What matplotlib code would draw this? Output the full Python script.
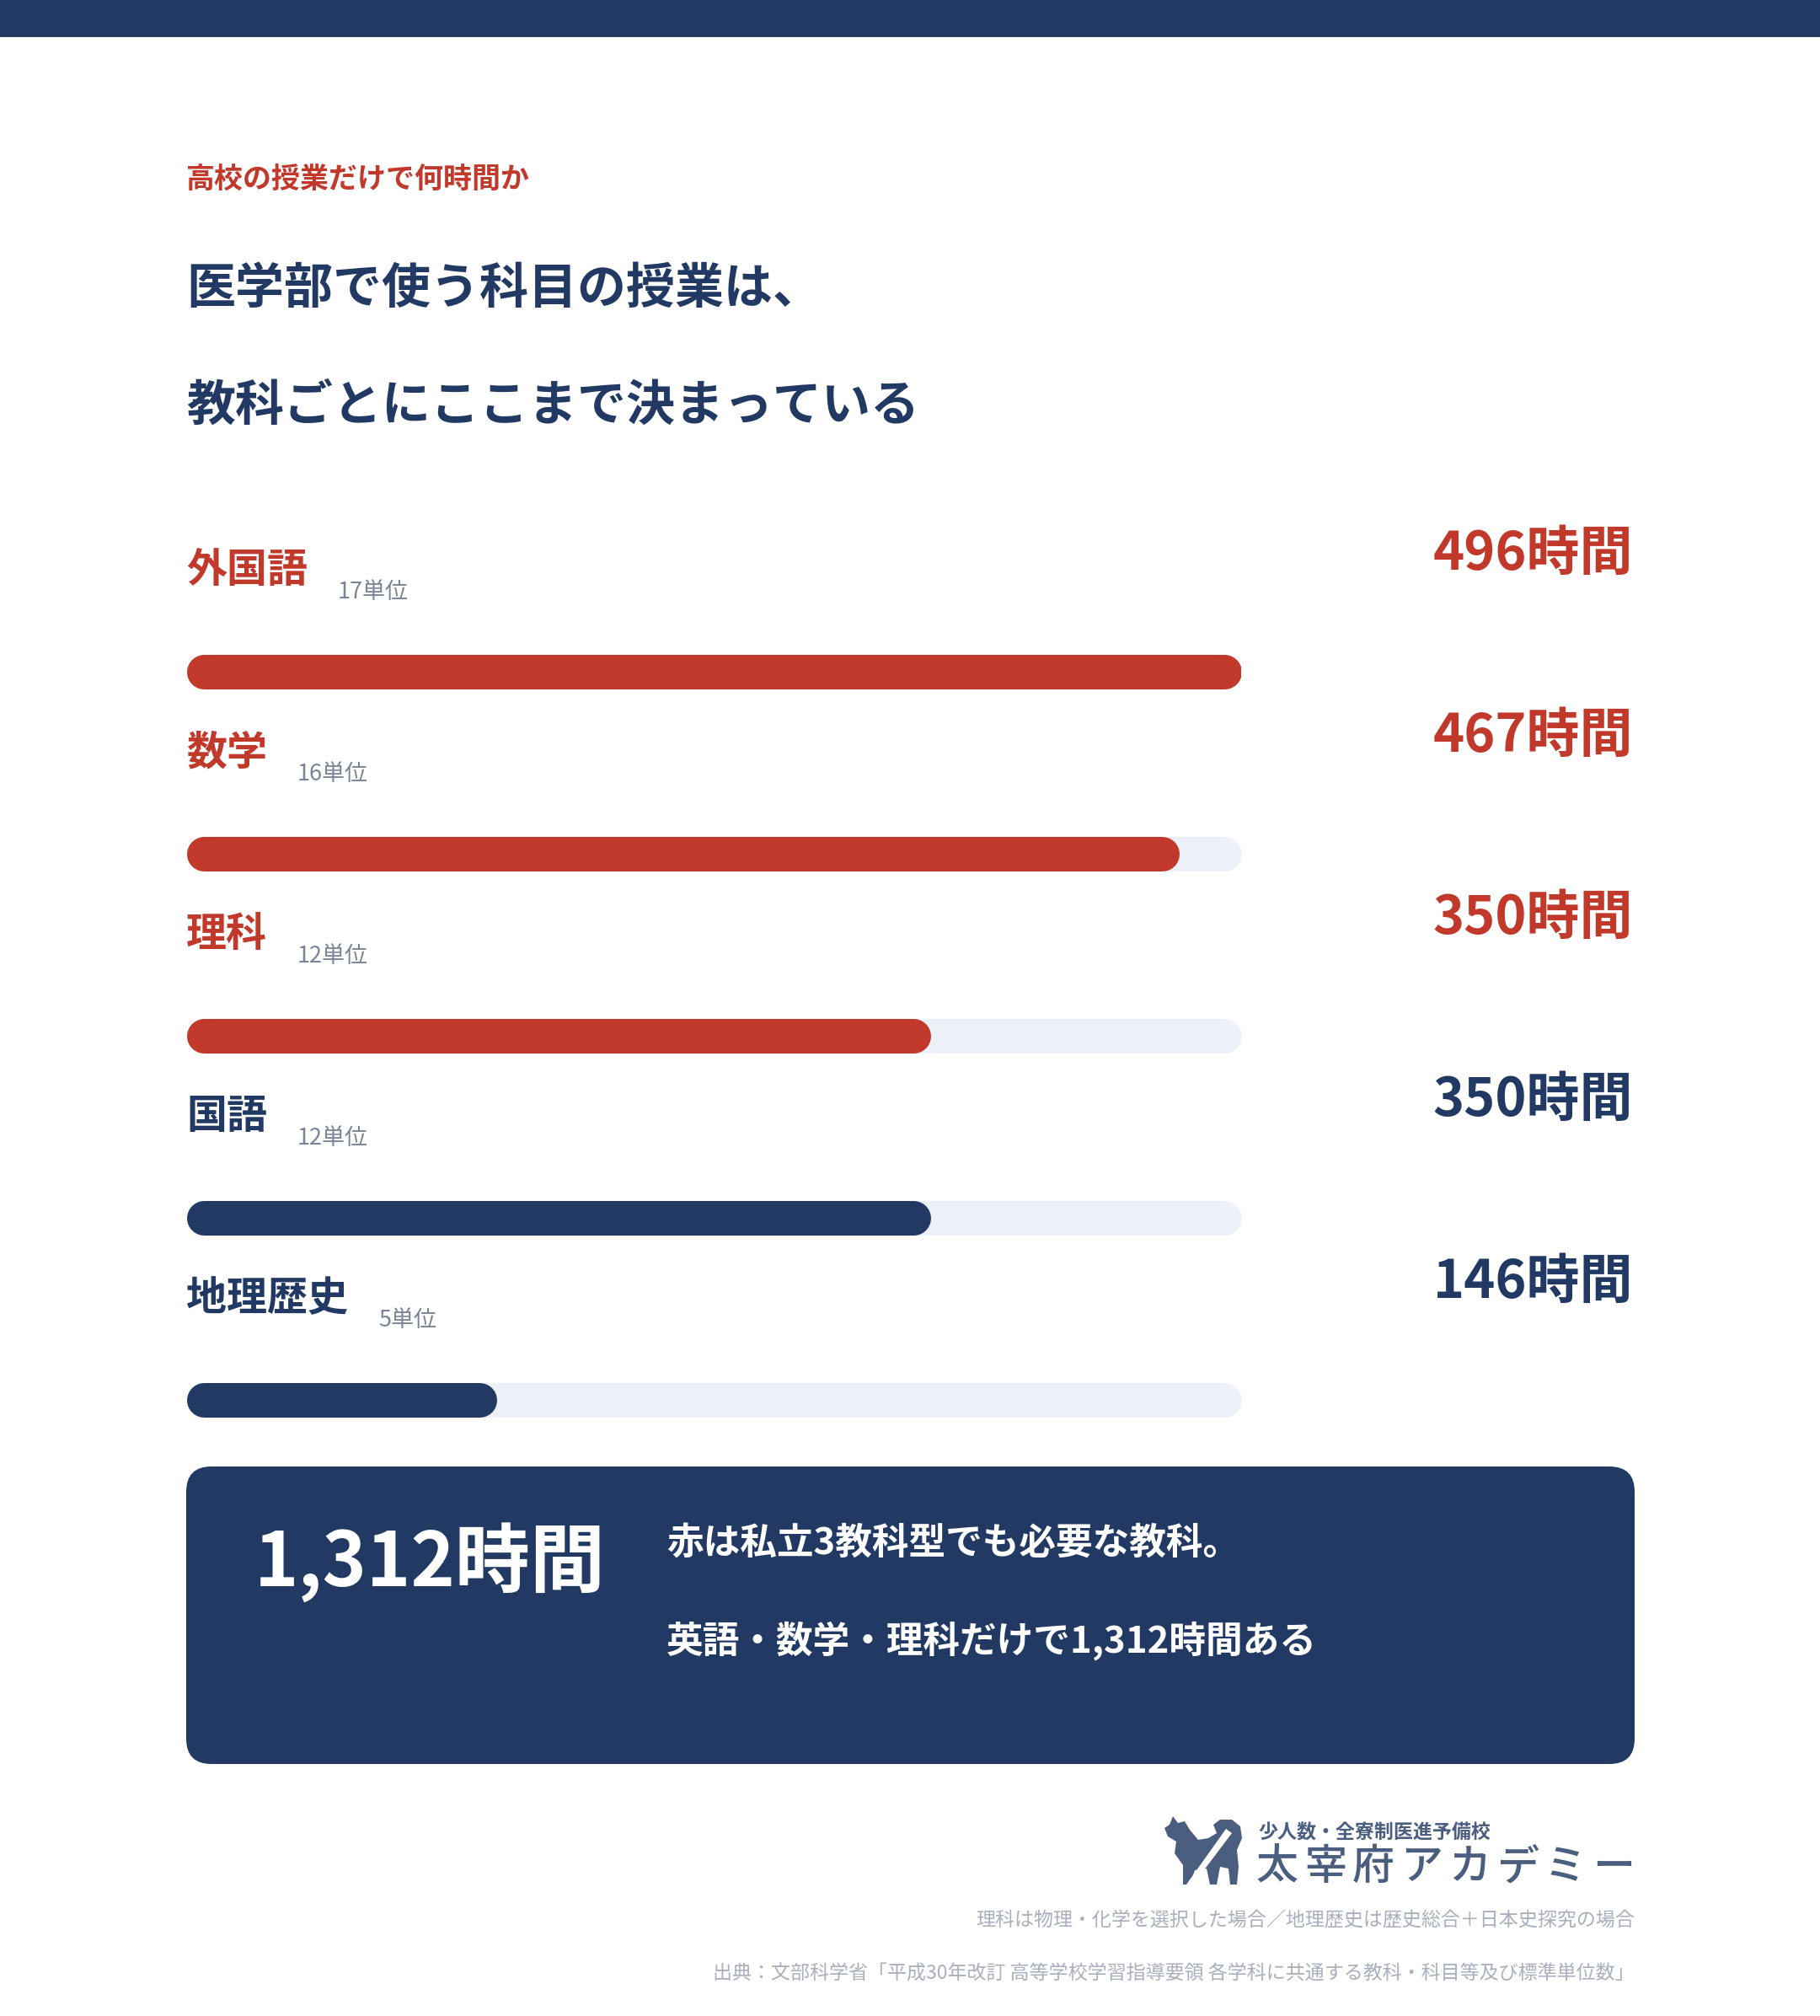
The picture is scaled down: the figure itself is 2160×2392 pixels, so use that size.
import matplotlib
matplotlib.use('Agg')
import matplotlib.pyplot as plt
from matplotlib.patches import FancyBboxPatch, Rectangle, Polygon

plt.rcParams['font.family'] = ['Noto Sans CJK JP', 'DejaVu Sans']

# data
subjects = ['外国語', '数学', '理科', '国語', '地理歴史']
units = [17, 16, 12, 12, 5]
hours = [496, 467, 350, 350, 146]
in_three = [True, True, True, False, False]   # red = needed for private 3-subject exams
total_label = '1,312'

# colours
NAVY = '#213963'
RED = '#C0392B'
TRACK = '#EDF0F7'
GREY = '#7B8494'
NOTE = '#A9AFBC'
LOGO = '#4B5E80'

W, H = 2160, 2392
DPI = 100
PT = 72 / DPI   # px -> pt

fig = plt.figure(figsize=(W / DPI, H / DPI), dpi=DPI)
fig.patch.set_facecolor('white')

# page axes in pixel coordinates
ax = fig.add_axes([0, 0, 1, 1])
ax.set_xlim(0, W)
ax.set_ylim(H, 0)
ax.axis('off')

# top band
ax.add_patch(Rectangle((0, 0), W, 44, color=NAVY, lw=0))

# heading
ax.text(221, 212, '高校の授業だけで何時間か', color=RED, fontsize=34 * PT,
        fontweight='bold', va='center', ha='left')
ax.text(221, 343, '医学部で使う科目の授業は、', color=NAVY, fontsize=58 * PT,
        fontweight='bold', va='center', ha='left')
ax.text(221, 482, '教科ごとにここまで決まっている', color=NAVY, fontsize=58 * PT,
        fontweight='bold', va='center', ha='left')

# bar axes: x in hours, y in page pixels
x0, x1 = 221, 1473
bx = fig.add_axes([x0 / W, 0, (x1 - x0) / W, 1])
hmax = max(hours)
bx.set_xlim(0, hmax)
bx.set_ylim(H, 0)
bx.axis('off')

bar_h = 41                      # px
cap = (bar_h / 2) * hmax / (x1 - x0)   # round cap radius in hours
row_y = [796.5, 1012.5, 1228.5, 1444.5, 1660.5]

for name, u, h, red, y in zip(subjects, units, hours, in_three, row_y):
    col = RED if red else NAVY
    bx.plot([cap, hmax - cap], [y, y], color=TRACK, lw=bar_h * PT,
            solid_capstyle='round', zorder=1)
    bx.plot([cap, h - cap], [y, y], color=col, lw=bar_h * PT,
            solid_capstyle='round', zorder=2)
    lab = ax.text(221, y - 120, name, color=col, fontsize=48 * PT,
                  fontweight='bold', va='center', ha='left')
    ax.annotate(f'{u}単位', xy=(1, 0.5), xycoords=lab,
                xytext=(36 * PT, -26 * PT), textcoords='offset points',
                color=GREY, fontsize=27 * PT, va='center', ha='left')
    ax.text(1938, y - 139, f'{h}時間', color=col, fontsize=63 * PT,
            fontweight='bold', va='center', ha='right')

# summary box
ax.add_patch(FancyBboxPatch((221 + 30, 1740 + 30), 1719 - 60, 353 - 60,
                            boxstyle='round,pad=30,rounding_size=30',
                            fc=NAVY, ec='none'))
ax.text(302, 1854, f'{total_label}時間', color='white', fontsize=89 * PT,
        fontweight='bold', va='center', ha='left')
ax.text(791, 1831, '赤は私立3教科型でも必要な教科。', color='white',
        fontsize=43.7 * PT, fontweight='bold', va='center', ha='left')
ax.text(791, 1947, f'英語・数学・理科だけで{total_label}時間ある', color='white',
        fontsize=43.7 * PT, fontweight='bold', va='center', ha='left')

# logo: simple dog mark + name
dog = [(0, 14), (6, 10), (10, 0), (16, 8), (24, 6), (30, 16), (40, 28),
       (52, 26), (62, 20), (58, 10), (66, 4), (80, 4), (90, 12), (92, 26),
       (86, 40), (88, 60), (86, 81), (78, 81), (76, 62), (66, 60), (62, 81),
       (54, 81), (50, 62), (36, 64), (30, 81), (22, 81), (22, 58), (12, 44),
       (14, 30), (4, 24)]
ox, oy = 1382, 2155
ax.add_patch(Polygon([(ox + a, oy + b) for a, b in dog], closed=True,
                     fc=LOGO, ec='none'))
sash = [(26, 81), (34, 81), (80, 20), (73, 15)]
ax.add_patch(Polygon([(ox + a, oy + b) for a, b in sash], closed=True,
                     fc='white', ec='none'))
ax.text(1493, 2175, '少人数・全寮制医進予備校', color=LOGO, fontsize=23 * PT,
        fontweight='bold', va='center', ha='left')
for i, ch in enumerate('太宰府アカデミー'):
    ax.text(1490 + 57 * i + 26, 2216, ch, color=LOGO, fontsize=50 * PT,
            fontweight='medium', va='center', ha='center')

# notes
ax.text(1940, 2279, '理科は物理・化学を選択した場合／地理歴史は歴史総合＋日本史探究の場合',
        color=NOTE, fontsize=23 * PT, va='center', ha='right')
ax.text(1940, 2342, '出典：文部科学省「平成30年改訂 高等学校学習指導要領 各学科に共通する教科・科目等及び標準単位数」',
        color=NOTE, fontsize=23 * PT, va='center', ha='right')

fig.savefig('out.png', dpi=DPI, facecolor='white')
